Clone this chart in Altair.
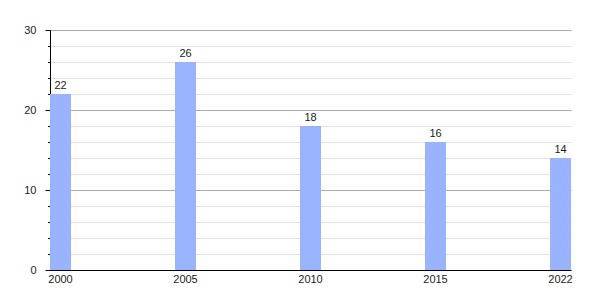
import altair as alt
import pandas as pd

years = ["2000", "2005", "2010", "2015", "2022"]
values = [22, 26, 18, 16, 14]

df = pd.DataFrame({"year": years, "value": values})

font = "Liberation Sans"

base = alt.Chart(df).encode(
    x=alt.X("year:N", sort=years, title=None,
            scale=alt.Scale(paddingInner=0.832, paddingOuter=0),
            axis=alt.Axis(labelAngle=0, ticks=False, domainColor="#000000",
                          labelPadding=3, labelFontSize=11, labelColor="#222222",
                          labelFont=font, grid=False)),
    y=alt.Y("value:Q", title=None,
            scale=alt.Scale(domain=[0, 30], nice=False),
            axis=alt.Axis(values=list(range(0, 31, 2)),
                          labelExpr="datum.value % 10 === 0 ? datum.label : ''",
                          tickSize={"condition": {"test": "datum.value % 10 === 0", "value": 5}, "value": 2.5},
                          gridColor={"condition": {"test": "datum.value % 10 === 0", "value": "#aaaaaa"}, "value": "#e2e2e2"},
                          tickColor="#000000", domainColor="#000000",
                          labelPadding=9, labelFontSize=11, labelColor="#222222",
                          labelFont=font)),
)

bars = base.mark_bar(color="#99b3ff")
labels = base.mark_text(baseline="bottom", dy=-3, fontSize=11, font=font, color="#222222").encode(
    text="value:Q")

chart = (bars + labels).properties(
    width=521, height=240,
    autosize=alt.AutoSizeParams(type="none"),
    padding={"left": 50, "top": 30, "right": 29, "bottom": 30},
).configure_view(stroke=None).configure_axis(domainWidth=1)

chart.save("out.html", embed_options={"renderer": "svg", "actions": False})
